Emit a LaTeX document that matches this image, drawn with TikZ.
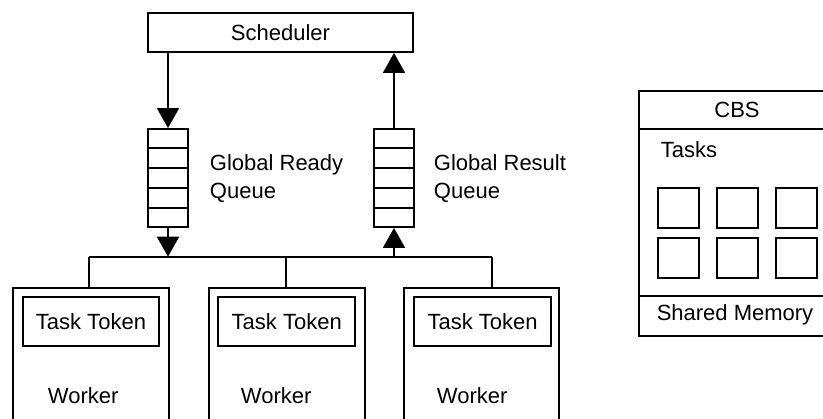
\documentclass[tikz,border=0pt]{standalone}
\usepackage{fontspec}
\setmainfont{Liberation Sans}
\usetikzlibrary{arrows.meta,calc}
\begin{document}
\begin{tikzpicture}[x=1pt,y=-1pt,line width=1.9pt,
  every node/.style={font=\fontsize{22}{28}\selectfont},
  box/.style={draw,rectangle,inner sep=0pt},
  label/.style={inner sep=0pt},
  flow/.style={-{Triangle[length=20pt,width=22pt]}}]
\useasboundingbox (0,0) rectangle (823,419);
\begin{scope}
\clip (0,0) rectangle (823,419);

% scheduler
\node[box,minimum width=265pt,minimum height=39pt] (sch) at (280.5,32.5) {Scheduler};

% the two global queues, five slots each
\node[box,minimum width=40pt,minimum height=98pt] (rq) at (168,178) {};
\node[box,minimum width=40pt,minimum height=98pt] (sq) at (394,178) {};
\foreach \q in {rq,sq}{
  \foreach \i in {1,...,4}{
    \draw ($(\q.north west)!\i/5!(\q.south west)$) -- ($(\q.north east)!\i/5!(\q.south east)$);
  }
}
% base anchor of a two-line label sits on its last line
\node[label,anchor=base west,align=left] (rql) at (209,198.5) {Global Ready\\Queue};
\node[label,anchor=base west,align=left] (sql) at (433,198.5) {Global Result\\Queue};

% workers
\node[box,anchor=north west,minimum width=156pt,minimum height=160pt] (w1) at (11.7,286.7) {};
\node[box,anchor=north west,minimum width=156pt,minimum height=160pt] (w2) at (208.3,286.7) {};
\node[box,anchor=north west,minimum width=155pt,minimum height=160pt] (w3) at (403.3,286.7) {};
\node[box,anchor=north west,minimum width=136.6pt,minimum height=49pt] (t1) at (21.7,296) {Task Token};
\node[box,anchor=north west,minimum width=137pt,minimum height=49pt] (t2) at (217.3,296) {Task Token};
\node[box,anchor=north west,minimum width=136.7pt,minimum height=49pt] (t3) at (413.3,296) {Task Token};
\node[label,anchor=base west] (l1) at (47,404) {Worker};
\node[label,anchor=base west] (l2) at (240,404) {Worker};
\node[label,anchor=base west] (l3) at (436,404) {Worker};

% bus joining the workers to the queues
\coordinate (busL) at (89.3,256.7);
\coordinate (busM) at (285.7,256.7);
\coordinate (busR) at (491.7,256.7);
\draw (busL) -- (busR);
\draw (busL) -- (busL |- w1.north);
\draw (busM) -- (busM |- w2.north);
\draw (busR) -- (busR |- w3.north);

% flow of tasks and results
\draw[flow] (rq.north |- sch.south) -- (rq.north);
\draw[flow] (rq.south) -- (rq.south |- busL);
\draw[flow] (sq.south |- busL) -- (sq.south);
\draw[flow] (sq.north) -- (sq.north |- sch.south);

% CBS block
\node[box,anchor=north west,minimum width=196pt,minimum height=245pt] (cbs) at (638,90) {};
\draw (cbs.west |- 0,129) -- (cbs.east |- 0,129);
\draw (cbs.west |- 0,296) -- (cbs.east |- 0,296);
\node[label,anchor=base] (cbst) at (737,118) {CBS};
\node[label,anchor=base west] (tasks) at (660,158) {Tasks};
\foreach \c [count=\k] in {657,716,775}{
  \node[box,anchor=north west,minimum width=41pt,minimum height=40pt] (ta\k) at (\c,187) {};
  \node[box,anchor=north west,minimum width=41pt,minimum height=40pt] (tb\k) at (\c,237) {};
}
\node[label,anchor=base] (shm) at (735,321) {Shared Memory};
\end{scope}
\end{tikzpicture}
\end{document}
